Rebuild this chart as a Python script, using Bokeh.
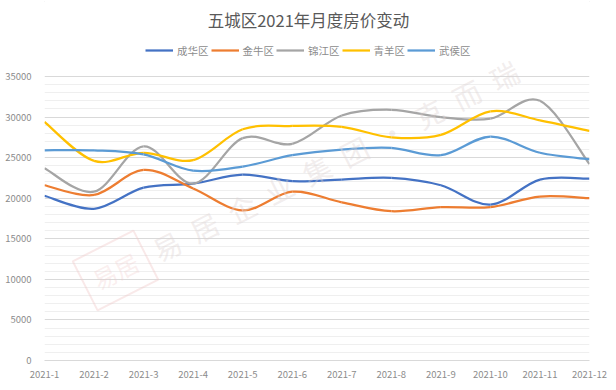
from bokeh.plotting import figure
from bokeh.models import (ColumnDataSource, Range1d, FixedTicker,
                          Legend, LegendItem, Label)
from bokeh.embed import file_html
from bokeh.resources import INLINE

months = ["2021-1", "2021-2", "2021-3", "2021-4", "2021-5", "2021-6",
          "2021-7", "2021-8", "2021-9", "2021-10", "2021-11", "2021-12"]
chenghua = [20300, 18700, 21300, 21800, 22900, 22100, 22300, 22500, 21600, 19200, 22300, 22400]
jinniu = [21600, 20400, 23500, 21200, 18500, 20800, 19500, 18400, 18900, 18900, 20200, 20000]
jinjiang = [23700, 20800, 26400, 21800, 27400, 26700, 30200, 30900, 30000, 29800, 32000, 24200]
qingyang = [29400, 24600, 25600, 24700, 28500, 28900, 28800, 27500, 27800, 30700, 29600, 28300]
wuhou = [25900, 25900, 25400, 23400, 23900, 25300, 26000, 26200, 25300, 27600, 25600, 24800]

series_names = ["成华区", "金牛区", "锦江区", "青羊区", "武侯区"]
series_values = [chenghua, jinniu, jinjiang, qingyang, wuhou]
series_colors = ["#4472C4", "#ED7D31", "#A5A5A5", "#FFC000", "#5B9BD5"]
y_major = [0, 5000, 10000, 15000, 20000, 25000, 30000, 35000]
y_minor = [v for v in range(0, 35001, 1000) if v not in y_major]

FONT = "Noto Sans CJK SC"

FRAME_H = 360          # frame spans the whole area above the x axis
PLOT_H = 284           # pixels used by 0..35000
y_top = 35000 * FRAME_H / PLOT_H

p = figure(width=616, height=390, output_backend="svg", toolbar_location=None,
           x_range=Range1d(0, len(months) - 1), y_range=Range1d(0, y_top),
           min_border_left=44, min_border_right=27, min_border_top=0, min_border_bottom=30)
p.outline_line_color = None
p.background_fill_color = "white"
p.border_fill_color = "white"
p.styles = {"outline": "1px solid #d9d9d9", "outline-offset": "-2px"}

# axes
p.xaxis.ticker = FixedTicker(ticks=list(range(len(months))))
p.xaxis.major_label_overrides = {i: m for i, m in enumerate(months)}
p.yaxis.ticker = FixedTicker(ticks=y_major, minor_ticks=y_minor)
for ax in (p.xaxis[0], p.yaxis[0]):
    ax.major_tick_line_color = None
    ax.minor_tick_line_color = None
    ax.major_label_text_font = FONT
    ax.major_label_text_font_size = "9.5px"
    ax.major_label_text_color = "#8c8c8c"
p.yaxis.axis_line_color = None
p.xaxis.axis_line_color = "#d9d9d9"
p.yaxis.major_label_standoff = 7
p.xaxis.major_label_standoff = 4

p.xgrid.grid_line_color = None
p.ygrid.grid_line_color = "#d9d9d9"
p.ygrid.minor_grid_line_color = "#efefef"

# watermark
sp = "\u2002"
p.add_layout(Label(x=291, y=200, x_units="screen", y_units="screen",
                   text=sp.join("易居企业集团·克而瑞"), angle=0.468,
                   text_align="center", text_baseline="middle",
                   text_font=FONT, text_font_size="28px",
                   text_color="#ddd2d2", text_alpha=0.4))
p.add_layout(Label(x=71, y=90, x_units="screen", y_units="screen",
                   text="易居", angle=0.468,
                   text_align="center", text_baseline="middle",
                   text_font=FONT, text_font_size="24px",
                   text_color="#f0c8c8", text_alpha=0.3,
                   border_line_color="#f0c8c8", border_line_alpha=0.4, border_line_width=2,
                   padding=10))

# smoothed lines (cubic Bezier through the data points)
def bezier_source(ys):
    n = len(ys)
    xs = list(range(n))
    d = dict(x0=[], y0=[], x1=[], y1=[], cx0=[], cy0=[], cx1=[], cy1=[])
    for i in range(n - 1):
        i0 = max(i - 1, 0)
        i3 = min(i + 2, n - 1)
        d["x0"].append(xs[i]); d["y0"].append(ys[i])
        d["x1"].append(xs[i + 1]); d["y1"].append(ys[i + 1])
        d["cx0"].append(xs[i] + (xs[i + 1] - xs[i0]) / 6)
        d["cy0"].append(ys[i] + (ys[i + 1] - ys[i0]) / 6)
        d["cx1"].append(xs[i + 1] - (xs[i3] - xs[i]) / 6)
        d["cy1"].append(ys[i + 1] - (ys[i3] - ys[i]) / 6)
    return ColumnDataSource(d)

items = []
for name, vals, col in zip(series_names, series_values, series_colors):
    br = p.bezier(x0="x0", y0="y0", x1="x1", y1="y1", cx0="cx0", cy0="cy0", cx1="cx1", cy1="cy1",
                  source=bezier_source(vals), line_color=col, line_width=2.25)
    items.append(LegendItem(label=name, renderers=[br]))

legend = Legend(items=items, orientation="horizontal", location=(101, 300),
                padding=0, margin=0, spacing=2, glyph_width=28, glyph_height=20,
                label_standoff=4, label_height=20,
                label_text_font=FONT, label_text_font_size="10.5px",
                label_text_color="#8c8c8c", border_line_color=None,
                background_fill_alpha=0)
p.add_layout(legend)

# title
p.add_layout(Label(x=264, y=341, x_units="screen", y_units="screen",
                   text="五城区2021年月度房价变动", text_align="center", text_baseline="middle",
                   text_font=FONT, text_font_size="16.5px", text_color="#595959"))

open("out.html", "w").write(file_html(p, INLINE))
